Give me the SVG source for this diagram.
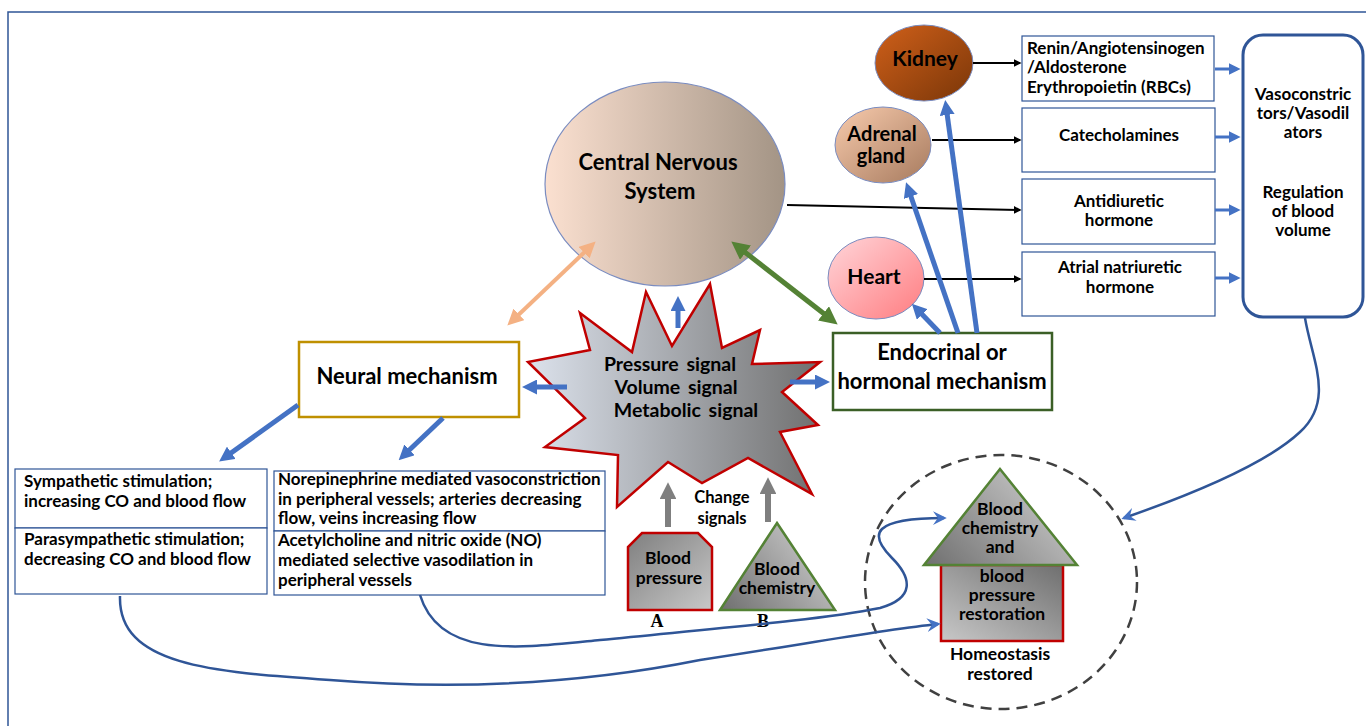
<svg xmlns="http://www.w3.org/2000/svg" width="1366" height="726" viewBox="0 0 1366 726">
<defs>
<style>
text{font-family:Lato,"Liberation Sans",sans-serif;font-weight:bold;fill:#000}
.c{text-anchor:middle}
.t20{font-size:22px}
.t21{font-size:21px}
.t18{font-size:19.5px}
.t16{font-size:17.5px}
.t15{font-size:17px}
.bx{fill:#fff;stroke:#2F5597;stroke-width:1.2}
.bl{fill:none;stroke:#4472C4;stroke-width:5}
.bk{fill:none;stroke:#000;stroke-width:2}
.cv{fill:none;stroke:#2F5597;stroke-width:2.5}
.gr{fill:none;stroke:#7F7F7F;stroke-width:6}
</style>
<linearGradient id="gCNS" x1="0" y1="0" x2="1" y2="0"><stop offset="0" stop-color="#FBE0D0"/><stop offset="1" stop-color="#A39485"/></linearGradient>
<linearGradient id="gKid" x1="0" y1="0" x2="1" y2="1"><stop offset="0" stop-color="#D0601A"/><stop offset="1" stop-color="#7A3608"/></linearGradient>
<linearGradient id="gAdr" x1="0" y1="0" x2="1" y2="1"><stop offset="0" stop-color="#F8CBAD"/><stop offset="1" stop-color="#A67A5E"/></linearGradient>
<linearGradient id="gHrt" x1="0" y1="0" x2="1" y2="1"><stop offset="0" stop-color="#FFD6DA"/><stop offset="1" stop-color="#FF7C80"/></linearGradient>
<linearGradient id="gStar" x1="0" y1="0" x2="1" y2="0"><stop offset="0" stop-color="#DCE2EC"/><stop offset="1" stop-color="#707070"/></linearGradient>
<linearGradient id="gDark" x1="0" y1="0" x2="1" y2="1"><stop offset="0" stop-color="#7F7F7F"/><stop offset="1" stop-color="#C8C8C8"/></linearGradient>
<linearGradient id="gTri" x1="0" y1="1" x2="1" y2="0.4"><stop offset="0" stop-color="#6F6F6F"/><stop offset="1" stop-color="#C8C8C8"/></linearGradient>
<linearGradient id="gRect" x1="0" y1="1" x2="1" y2="0"><stop offset="0" stop-color="#C8C8C8"/><stop offset="1" stop-color="#6F6F6F"/></linearGradient>
<marker id="ab" viewBox="0 0 10 10" refX="6" refY="5" markerWidth="3" markerHeight="3" orient="auto-start-reverse"><path d="M0,0 L10,5 L0,10 z" fill="#4472C4"/></marker>
<marker id="ak" viewBox="0 0 10 10" refX="8" refY="5" markerWidth="4" markerHeight="4" orient="auto"><path d="M0,0 L10,5 L0,10 z" fill="#000"/></marker>
<marker id="ap" viewBox="0 0 10 10" refX="6" refY="5" markerWidth="4" markerHeight="4" orient="auto-start-reverse"><path d="M0,0 L10,5 L0,10 z" fill="#F4B183"/></marker>
<marker id="ag" viewBox="0 0 10 10" refX="6" refY="5" markerWidth="3.6" markerHeight="3.6" orient="auto-start-reverse"><path d="M0,0 L10,5 L0,10 z" fill="#548235"/></marker>
<marker id="agr" viewBox="0 0 10 10" refX="6" refY="5" markerWidth="2.8" markerHeight="2.8" orient="auto"><path d="M0,0 L10,5 L0,10 z" fill="#7F7F7F"/></marker>
<marker id="ac" viewBox="0 0 10 10" refX="8" refY="5" markerWidth="5.5" markerHeight="5.5" orient="auto"><path d="M0,0 L10,5 L0,10 L3.5,5 z" fill="#4472C4"/></marker>
<marker id="as" viewBox="0 0 10 10" refX="7" refY="5" markerWidth="4" markerHeight="4" orient="auto"><path d="M0,0 L10,5 L0,10 z" fill="#4472C4"/></marker>
</defs>

<rect width="1366" height="726" fill="#fff"/>
<path d="M8,726 L8,12 L1366,12" fill="none" stroke="#2F5597" stroke-width="1.5"/>

<g id="cns">
<ellipse cx="665" cy="184" rx="120" ry="102" fill="url(#gCNS)" stroke="#7A8CC0" stroke-width="1.2"/>
<text class="c t20" x="658" y="170">Central Nervous</text>
<text class="c t20" x="660" y="199">System</text>
</g>

<g id="kidney">
<ellipse cx="924" cy="63" rx="49" ry="38" fill="url(#gKid)" stroke="#7A8CC0" stroke-width="1"/>
<text class="c t21" x="925" y="66">Kidney</text>
</g>
<g id="adrenal">
<ellipse cx="883" cy="145" rx="48" ry="38" fill="url(#gAdr)" stroke="#7A8CC0" stroke-width="1"/>
<text class="c t21" x="882" y="141" style="font-size:20px">Adrenal</text>
<text class="c t21" x="881" y="163" style="font-size:20px">gland</text>
</g>
<g id="heart">
<ellipse cx="876" cy="278" rx="48" ry="41" fill="url(#gHrt)" stroke="#7A8CC0" stroke-width="1"/>
<text class="c t21" x="874" y="284">Heart</text>
</g>

<g id="renin">
<rect class="bx" x="1022" y="36" width="192" height="65"/>
<text class="t15" x="1027" y="54">Renin/Angiotensinogen</text>
<text class="t15" x="1027" y="73">/Aldosterone</text>
<text class="t15" x="1027" y="93">Erythropoietin (RBCs)</text>
</g>
<g id="catecholamines">
<rect class="bx" x="1022" y="108" width="193" height="64"/>
<text class="c t15" x="1119" y="141">Catecholamines</text>
</g>
<g id="adh">
<rect class="bx" x="1022" y="179" width="193" height="65"/>
<text class="c t15" x="1119" y="207">Antidiuretic</text>
<text class="c t15" x="1119" y="226">hormone</text>
</g>
<g id="anh">
<rect class="bx" x="1022" y="252" width="193" height="64"/>
<text class="c t15" x="1120" y="273">Atrial natriuretic</text>
<text class="c t15" x="1120" y="293">hormone</text>
</g>
<g id="vaso">
<rect x="1243" y="35" width="120" height="282" rx="20" fill="#fff" stroke="#2F5597" stroke-width="3"/>
<text class="c t15" x="1303" y="100">Vasoconstric</text>
<text class="c t15" x="1303" y="119">tors/Vasodil</text>
<text class="c t15" x="1303" y="138">ators</text>
<text class="c t15" x="1303" y="198">Regulation</text>
<text class="c t15" x="1303" y="217">of blood</text>
<text class="c t15" x="1303" y="236">volume</text>
</g>

<g id="endocrinal">
<rect x="833" y="333" width="219" height="77" fill="#fff" stroke="#3B5F26" stroke-width="2.5"/>
<text class="c t20" x="942" y="360">Endocrinal or</text>
<text class="c t20" x="942" y="389">hormonal mechanism</text>
</g>
<g id="neural">
<rect x="299" y="342" width="220" height="75" fill="#fff" stroke="#BF9000" stroke-width="2.5"/>
<text class="c t20" x="407" y="384">Neural mechanism</text>
</g>

<g id="signals">
<polygon points="580,313 632,352 646,292 672,346 710,284 722,348 760,330 752,364 820,362 782,392 818,425 780,432 812,494 748,458 702,483 668,462 617,507 618,455 545,447 585,418 528,362 590,350" fill="url(#gStar)" stroke="#C00000" stroke-width="2.5" stroke-linejoin="miter"/>
<text class="c t18" x="670" y="371" style="word-spacing:3px">Pressure signal</text>
<text class="c t18" x="676" y="394" style="word-spacing:3px">Volume signal</text>
<text class="c t18" x="686" y="417" style="word-spacing:3px">Metabolic signal</text>
</g>

<g id="sympathetic">
<rect class="bx" x="15" y="469" width="252" height="59"/>
<text class="t15" x="24" y="487">Sympathetic stimulation;</text>
<text class="t15" x="24" y="507">increasing CO and blood flow</text>
</g>
<g id="parasympathetic">
<rect class="bx" x="15" y="528" width="252" height="66"/>
<text class="t15" x="24" y="545">Parasympathetic stimulation;</text>
<text class="t15" x="24" y="565">decreasing CO and blood flow</text>
</g>
<g id="norepinephrine">
<rect class="bx" x="274" y="471" width="331" height="60"/>
<text class="t15" x="278" y="485">Norepinephrine mediated vasoconstriction</text>
<text class="t15" x="278" y="505">in peripheral vessels; arteries decreasing</text>
<text class="t15" x="278" y="524">flow, veins increasing flow</text>
</g>
<g id="acetylcholine">
<rect class="bx" x="274" y="531" width="331" height="64"/>
<text class="t15" x="278" y="546">Acetylcholine and nitric oxide (NO)</text>
<text class="t15" x="278" y="566">mediated selective vasodilation in</text>
<text class="t15" x="278" y="586">peripheral vessels</text>
</g>

<g id="change">
<text class="c" x="722" y="503" style="font-size:16.5px">Change</text>
<text class="c" x="722" y="524" style="font-size:16.5px">signals</text>
</g>
<g id="bloodpressure">
<path d="M642,533 L698,533 L712,547 L712,610 L628,610 L628,547 z" fill="url(#gDark)" stroke="#C00000" stroke-width="2.5"/>
<text class="c t16" x="668" y="564">Blood</text>
<text class="c t16" x="669" y="584">pressure</text>
<text x="657" y="627" style="font-family:'Liberation Serif',serif;font-size:18px" class="c">A</text>
</g>
<g id="bloodchemistry">
<polygon points="777,523 835,610 720,610" fill="url(#gTri)" stroke="#548235" stroke-width="2.5"/>
<text class="c t16" x="777" y="575">Blood</text>
<text class="c t16" x="777" y="594">chemistry</text>
<text x="763" y="627" style="font-family:'Liberation Serif',serif;font-size:18px" class="c">B</text>
</g>

<g id="homeostasis">
<ellipse cx="1001" cy="582" rx="136" ry="127" fill="none" stroke="#404040" stroke-width="2.5" stroke-dasharray="11 7"/>
<rect x="941" y="565" width="122" height="76" fill="url(#gRect)" stroke="#C00000" stroke-width="2.5"/>
<polygon points="1000,469 1077,565 924,565" fill="url(#gTri)" stroke="#548235" stroke-width="2.5"/>
<text class="c t16" x="1000" y="515">Blood</text>
<text class="c t16" x="1000" y="534">chemistry</text>
<text class="c t16" x="1000" y="553">and</text>
<text class="c t16" x="1002" y="582">blood</text>
<text class="c t16" x="1002" y="601">pressure</text>
<text class="c t16" x="1002" y="620">restoration</text>
<text class="c t16" x="1000" y="660">Homeostasis</text>
<text class="c t16" x="1000" y="680">restored</text>
</g>

<g id="connectors">
<line class="bk" x1="973" y1="63" x2="1020" y2="63" marker-end="url(#ak)"/>
<line class="bk" x1="932" y1="140" x2="1020" y2="140" marker-end="url(#ak)"/>
<line class="bk" x1="787" y1="205" x2="1020" y2="210" marker-end="url(#ak)"/>
<line class="bk" x1="924" y1="279" x2="1020" y2="279" marker-end="url(#ak)"/>

<line fill="none" stroke="#4472C4" stroke-width="3" x1="1215" y1="69" x2="1237" y2="69" marker-end="url(#as)"/>
<line fill="none" stroke="#4472C4" stroke-width="3" x1="1215" y1="137" x2="1237" y2="137" marker-end="url(#as)"/>
<line fill="none" stroke="#4472C4" stroke-width="3" x1="1215" y1="210" x2="1237" y2="210" marker-end="url(#as)"/>
<line fill="none" stroke="#4472C4" stroke-width="3" x1="1215" y1="278" x2="1237" y2="278" marker-end="url(#as)"/>

<line class="bl" x1="977" y1="333" x2="946" y2="106" marker-end="url(#ab)"/>
<line class="bl" x1="958" y1="333" x2="908" y2="188" marker-end="url(#ab)"/>
<line class="bl" x1="940" y1="333" x2="916" y2="308" marker-end="url(#ab)"/>

<line class="bl" x1="678" y1="328" x2="678" y2="302" marker-end="url(#ab)"/>
<line class="bl" x1="567" y1="387" x2="528" y2="387" marker-end="url(#ab)"/>
<line class="bl" x1="790" y1="382" x2="824" y2="382" marker-end="url(#ab)"/>
<line class="bl" x1="298" y1="405" x2="224" y2="458" marker-end="url(#ab)"/>
<line class="bl" x1="443" y1="418" x2="403" y2="456" marker-end="url(#ab)"/>

<line fill="none" stroke="#F4B183" stroke-width="4" x1="512" y1="321" x2="591" y2="246" marker-start="url(#ap)" marker-end="url(#ap)"/>
<line fill="none" stroke="#548235" stroke-width="5" x1="737" y1="246" x2="832" y2="320" marker-start="url(#ag)" marker-end="url(#ag)"/>

<line class="gr" x1="668" y1="527" x2="668" y2="489" marker-end="url(#agr)"/>
<line class="gr" x1="768" y1="522" x2="768" y2="484" marker-end="url(#agr)"/>

<path class="cv" d="M420,595 C440,660 520,648 600,640 C720,628 820,620 880,608 C915,598 912,578 892,558 C868,534 872,518 944,518" marker-end="url(#ac)"/>
<path class="cv" d="M120,596 C118,665 210,672 330,680 C480,692 600,680 700,660 C800,645 880,630 938,624" marker-end="url(#ac)"/>
<path class="cv" d="M1305,318 C1312,360 1335,400 1300,432 C1265,465 1190,495 1124,518" marker-end="url(#ac)"/>
</g>
</svg>
